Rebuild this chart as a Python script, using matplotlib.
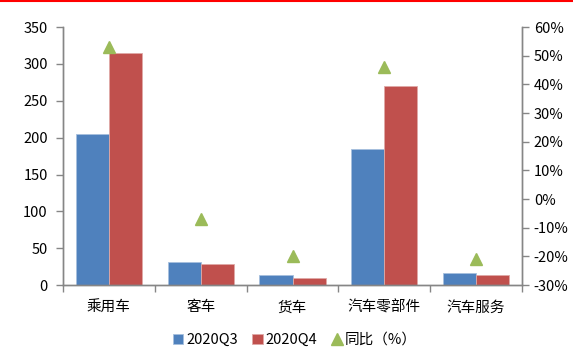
import matplotlib.pyplot as plt
from matplotlib.lines import Line2D
from matplotlib.ticker import FuncFormatter, FixedLocator
import numpy as np

plt.rcParams['font.family'] = ['Noto Sans CJK SC', 'DejaVu Sans']

# Data
categories = ['乘用车', '客车', '货车', '汽车零部件', '汽车服务']
q3 = [205, 31, 14, 185, 17]
q4 = [315, 29, 10, 270, 14]
yoy = [53, -7, -20, 46, -21]  # %

c_q3 = '#4F81BD'
c_q4 = '#C0504D'
c_yoy = '#9BBB59'
axis_grey = '#868686'

fig = plt.figure(figsize=(5.73, 3.56), dpi=100)
ax = fig.add_axes([0.110, 0.199, 0.801, 0.725])
ax2 = ax.twinx()

x = np.arange(len(categories))
w = 0.36
ax.bar(x - w / 2, q3, w, color=c_q3, edgecolor='#A7C0DE', linewidth=0.6, label='2020Q3', zorder=2)
ax.bar(x + w / 2, q4, w, color=c_q4, edgecolor='#DFA9A7', linewidth=0.6, label='2020Q4', zorder=2)
ax2.plot(x, yoy, linestyle='none', marker='^', markersize=9, color=c_yoy, label='同比（%）', zorder=3)

ax.set_xlim(-0.5, len(categories) - 0.5)
ax.set_ylim(0, 350)
ax.set_yticks(np.arange(0, 351, 50))
ax2.set_ylim(-30, 60)
ax2.set_yticks(np.arange(-30, 61, 10))
ax2.yaxis.set_major_formatter(FuncFormatter(lambda v, p: f'{v:.0f}%'))

ax.set_xticks(x)
ax.set_xticklabels(categories, fontsize=10.5)
ax.xaxis.set_minor_locator(FixedLocator(np.arange(-0.5, len(categories), 1)))
ax.tick_params(axis='x', which='major', length=0, pad=11)
ax.tick_params(axis='x', which='minor', length=5, width=1, color=axis_grey)
ax.tick_params(axis='y', length=5, width=1, color=axis_grey, labelsize=10.5, pad=6)
ax2.tick_params(axis='y', length=5, width=1, color=axis_grey, labelsize=10.5)

for a in (ax, ax2):
    a.spines['top'].set_visible(False)
    for s in ('left', 'right', 'bottom'):
        a.spines[s].set_color(axis_grey)
        a.spines[s].set_linewidth(1)

h1, l1 = ax.get_legend_handles_labels()
h2, l2 = ax2.get_legend_handles_labels()
fig.legend(h1 + h2, l1 + l2, loc='center', bbox_to_anchor=(0.515, 0.045), ncol=3,
           frameon=False, fontsize=10.5, handlelength=0.7, handleheight=0.7,
           handletextpad=0.2, columnspacing=1.0)

# red rule across the top edge
fig.add_artist(Line2D([0, 1], [0.998, 0.998], color='red', linewidth=1.5, transform=fig.transFigure))

fig.savefig('out.png', dpi=100)
